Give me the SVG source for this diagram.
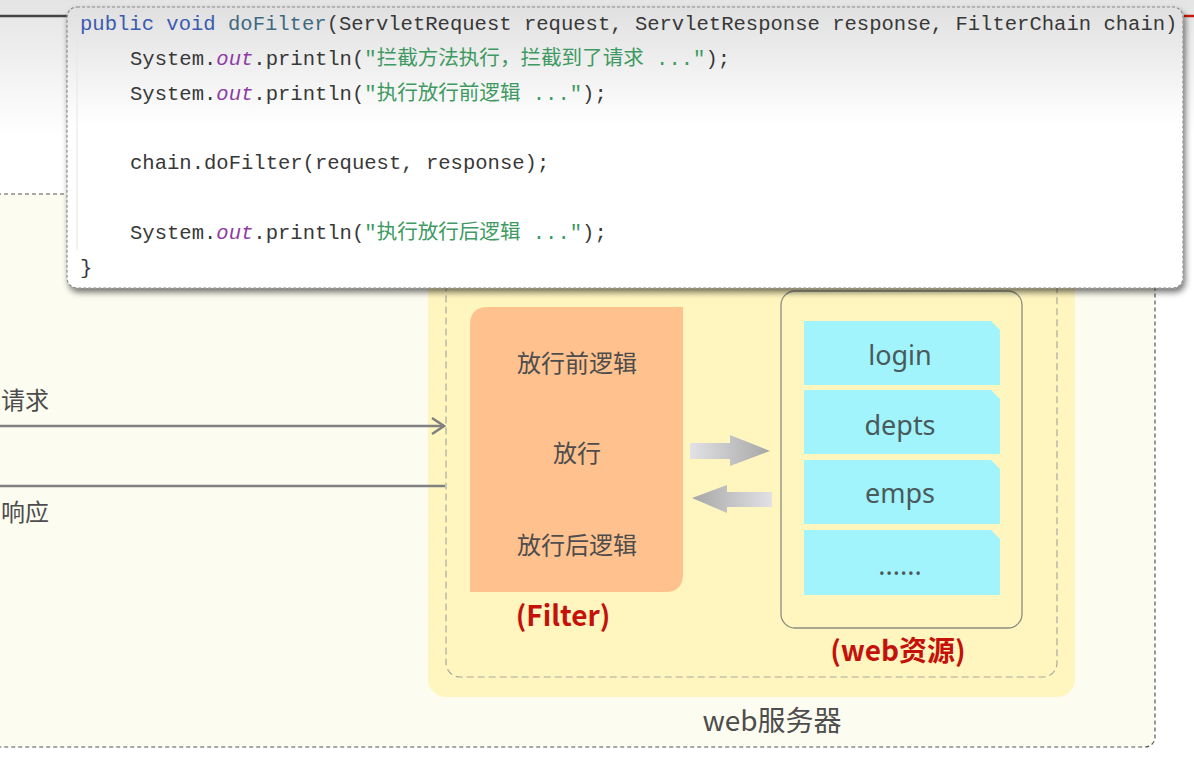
<svg xmlns="http://www.w3.org/2000/svg" width="1194" height="764" viewBox="0 0 1194 764">
<defs>
<style>
.cjk{font-family:"Noto Sans CJK SC","Noto Sans",sans-serif}
.lbl{font-family:"Noto Sans CJK SC","Noto Sans",sans-serif;fill:#4d4d4d}
.red{font-family:"Noto Sans CJK SC","Noto Sans",sans-serif;font-weight:bold;fill:#c4120a;font-size:28px;text-anchor:middle}
.res{font-family:"Noto Sans","Noto Sans CJK SC",sans-serif;fill:#4a5a5c;font-size:27px;text-anchor:middle}
.code{font-family:"Liberation Mono","Noto Sans CJK SC",monospace;font-size:20.55px;fill:#383838;white-space:pre}
.kw{fill:#3b5bb0}
.fn{fill:#3f6a80}
.st{fill:#3e9a62}
.it{fill:#8e3aa6;font-style:italic}
.item{fill:#a1f4fb}
.wire{stroke:#808080;stroke-width:2.5;fill:none}
</style>
<linearGradient id="bgGrad" x1="0" y1="0" x2="0" y2="1">
<stop offset="0" stop-color="#e4e4e4"/>
<stop offset="0.7" stop-color="#ffffff"/>
</linearGradient>
<linearGradient id="popGrad" x1="0" y1="0" x2="0" y2="1">
<stop offset="0" stop-color="#e0e0e0"/>
<stop offset="0.42" stop-color="#ffffff"/>
<stop offset="1" stop-color="#ffffff"/>
</linearGradient>
<linearGradient id="arrR" x1="0" y1="0" x2="1" y2="0">
<stop offset="0" stop-color="#e2e2e6"/>
<stop offset="1" stop-color="#a6a6a6"/>
</linearGradient>
<linearGradient id="arrL" x1="0" y1="0" x2="1" y2="0">
<stop offset="0" stop-color="#a6a6a6"/>
<stop offset="1" stop-color="#e2e2e6"/>
</linearGradient>
<marker id="open" markerWidth="16" markerHeight="18" refX="14" refY="9" orient="auto" markerUnits="userSpaceOnUse">
<path d="M2,1 L14,9 L2,17" fill="none" stroke="#808080" stroke-width="2.5"/>
</marker>
<filter id="shadow" x="-5%" y="-10%" width="110%" height="125%">
<feDropShadow dx="2" dy="4" stdDeviation="3" flood-color="#000" flood-opacity="0.55"/>
</filter>
</defs>

<g id="background">
<rect x="0" y="0" width="1194" height="764" fill="#ffffff"/>
<rect x="0" y="0" width="1194" height="194" fill="url(#bgGrad)"/>
<line x1="0" y1="16" x2="68" y2="16" stroke="#444" stroke-width="2.5"/>
<line x1="1184" y1="16" x2="1194" y2="16" stroke="#c8170d" stroke-width="2.5"/>
</g>

<g id="web-server">
<rect x="-20" y="194" width="1175" height="553" rx="10" fill="#fdfcf0" stroke="#555" stroke-width="1.2" stroke-dasharray="4 3"/>
<rect x="428" y="240" width="647" height="457" rx="18" fill="#fff6bf"/>
<rect x="446" y="250" width="611" height="427" rx="14" fill="none" stroke="#a8a8a0" stroke-width="1.2" stroke-dasharray="7 4"/>
<text class="lbl" x="772" y="731" font-size="28" text-anchor="middle" fill="#444">web服务器</text>
</g>

<g id="filter">
<path d="M488,307 H683 V574 Q683,592 665,592 H470 V325 Q470,307 488,307 Z" fill="#ffc18d"/>
<text class="lbl" x="577" y="372" font-size="24" text-anchor="middle">放行前逻辑</text>
<text class="lbl" x="577" y="462" font-size="24" text-anchor="middle">放行</text>
<text class="lbl" x="577" y="554" font-size="24" text-anchor="middle">放行后逻辑</text>
<text class="red" x="563" y="626">(Filter)</text>
</g>

<g id="web-resources">
<rect x="781" y="291" width="241" height="337" rx="14" fill="none" stroke="#8c8c80" stroke-width="1.3"/>
<g id="res-login">
<path class="item" d="M804,321 H991 L1000,330 V385 H804 Z"/>
<text class="res" x="900" y="365">login</text>
</g>
<g id="res-depts">
<path class="item" d="M804,390 H991 L1000,399 V454 H804 Z"/>
<text class="res" x="900" y="435">depts</text>
</g>
<g id="res-emps">
<path class="item" d="M804,460 H991 L1000,469 V524 H804 Z"/>
<text class="res" x="900" y="503">emps</text>
</g>
<g id="res-more">
<path class="item" d="M804,530 H991 L1000,539 V595 H804 Z"/>
<text class="res" x="900" y="575">......</text>
</g>
<text class="red" x="898" y="661">(web资源)</text>
</g>

<g id="connectors">
<line class="wire" x1="0" y1="426" x2="444" y2="426" marker-end="url(#open)"/>
<line class="wire" x1="0" y1="486" x2="445" y2="486"/>
<text class="lbl" x="1" y="409" font-size="24">请求</text>
<text class="lbl" x="1" y="521" font-size="24">响应</text>
<polygon points="690,443 730,443 730,435 770,451 730,466 730,459 690,459" fill="url(#arrR)"/>
<polygon points="772,492 727,492 727,485 692,498 727,513 727,507 772,507" fill="url(#arrL)"/>
</g>

<g id="code-popup">
<rect x="67" y="7" width="1116" height="281" rx="10" fill="url(#popGrad)" stroke="#8a8a8a" stroke-width="1.2" stroke-dasharray="3 2" filter="url(#shadow)"/>
<line x1="77" y1="40" x2="77" y2="250" stroke="#e6e6e6" stroke-width="1"/>
<text class="code" x="80" y="30"><tspan class="kw">public void </tspan><tspan class="fn">doFilter</tspan>(ServletRequest request, ServletResponse response, FilterChain chain)</text>
<text class="code" x="130" y="65">System.<tspan class="it">out</tspan>.println(<tspan class="st">"拦截方法执行，拦截到了请求 ..."</tspan>);</text>
<text class="code" x="130" y="100">System.<tspan class="it">out</tspan>.println(<tspan class="st">"执行放行前逻辑 ..."</tspan>);</text>
<text class="code" x="130" y="169">chain.doFilter(request, response);</text>
<text class="code" x="130" y="239">System.<tspan class="it">out</tspan>.println(<tspan class="st">"执行放行后逻辑 ..."</tspan>);</text>
<text class="code" x="80" y="274">}</text>
</g>
</svg>
